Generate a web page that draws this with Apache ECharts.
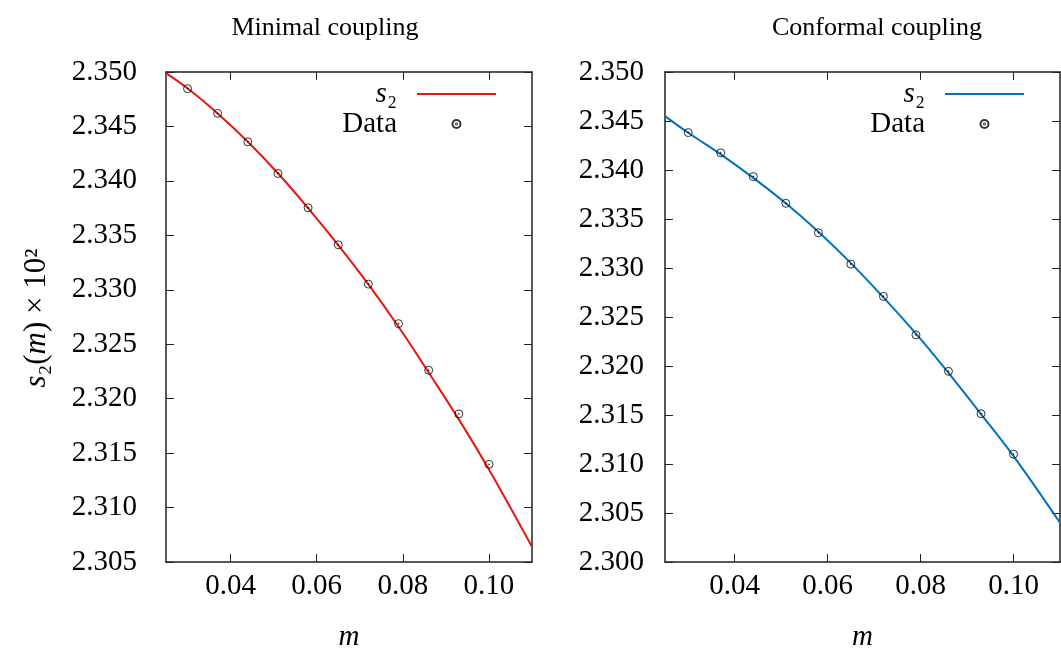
<!DOCTYPE html>
<html>
<head>
<meta charset="utf-8">
<script src="https://cdn.jsdelivr.net/npm/echarts@6/dist/echarts.min.js"></script>
<style>html,body{margin:0;padding:0;background:#fff}#c{width:1061px;height:651px}</style>
</head>
<body>
<div id="c"></div>
<script>
// ---- data ----
const mData = [0.030, 0.037, 0.044, 0.051, 0.058, 0.065, 0.072, 0.079, 0.086, 0.093, 0.100];
const s2MinData = [2.34847, 2.34620, 2.34359, 2.34068, 2.33753, 2.33413, 2.33052, 2.32689, 2.32261, 2.31860, 2.31397];
const s2ConfData = [2.34382, 2.34175, 2.33933, 2.33660, 2.33360, 2.33040, 2.32710, 2.32317, 2.31946, 2.31513, 2.31100];

const mCurve = [0.025, 0.030, 0.037, 0.044, 0.051, 0.058, 0.065, 0.072, 0.079, 0.086, 0.093, 0.100, 0.110];
const s2MinCurve = [2.3499, 2.3485, 2.3462, 2.3436, 2.3407, 2.3375, 2.3341, 2.3305, 2.3266, 2.3224, 2.3181, 2.3135, 2.3064];
const s2ConfCurve = [2.3455, 2.3438, 2.3416, 2.3392, 2.3366, 2.3337, 2.3305, 2.3270, 2.3233, 2.3193, 2.3151, 2.3108, 2.3040];

const xTicks = [0.04, 0.06, 0.08, 0.10];
const yTicksMin = [2.305, 2.310, 2.315, 2.320, 2.325, 2.330, 2.335, 2.340, 2.345, 2.350];
const yTicksConf = [2.300, 2.305, 2.310, 2.315, 2.320, 2.325, 2.330, 2.335, 2.340, 2.345, 2.350];

const titles = ['Minimal coupling', 'Conformal coupling'];

// ---- chart ----
const FONT = 'Liberation Serif';
const AX = '#222';
const zip = (a, b) => a.map((v, i) => [v, b[i]]);
const symPath = 'path://M10,0A10,10,0,1,1,-10,0A10,10,0,1,1,10,0ZM1.2,0A1.2,1.2,0,1,1,-1.2,0A1.2,1.2,0,1,1,1.2,0Z';

function xAxisDef(grid, pos) {
  const bottom = pos === 'bottom';
  return {
    type: 'value', gridIndex: grid, position: pos, min: 0.025, max: 0.11,
    axisLine: { show: true, onZero: false, lineStyle: { color: AX, width: 1.5 } },
    axisTick: { show: true, inside: true, length: 8, customValues: xTicks, lineStyle: { color: AX, width: 1 } },
    axisLabel: { show: bottom, customValues: xTicks, margin: 10, color: '#000', fontFamily: FONT, fontSize: 29,
      formatter: v => v.toFixed(2) },
    splitLine: { show: false },
    name: bottom ? 'm' : '', nameLocation: 'middle', nameGap: 61,
    nameTextStyle: { fontFamily: FONT, fontSize: 29, fontStyle: 'italic', color: '#000' }
  };
}
function yAxisDef(grid, pos, min, ticks, margin) {
  const left = pos === 'left';
  return {
    type: 'value', gridIndex: grid, position: pos, min: min, max: 2.35,
    axisLine: { show: true, onZero: false, lineStyle: { color: AX, width: 1.5 } },
    axisTick: { show: true, inside: true, length: 8, customValues: ticks, lineStyle: { color: AX, width: 1 } },
    axisLabel: { show: left, customValues: ticks, margin: margin, color: '#000', fontFamily: FONT, fontSize: 29,
      formatter: v => v.toFixed(3) },
    splitLine: { show: false }
  };
}
function legendDef(right, names) {
  return {
    orient: 'vertical', align: 'right', right: right, top: 79, padding: 0,
    itemWidth: 79, itemHeight: 8, itemGap: 0,
    data: [{ name: names[0], itemStyle: { opacity: 0 } }, { name: names[1] }],
    textStyle: { fontFamily: FONT, fontSize: 29, color: '#000', lineHeight: 30, padding: [0, 15, 0, 0],
      rich: { i: { fontFamily: FONT, fontSize: 29, fontStyle: 'italic', color: '#000', lineHeight: 30 },
              n: { fontFamily: FONT, fontSize: 29, color: '#000', lineHeight: 30 } } },
    formatter: n => n.trim() === 's₂' ? '{i|s}{n|₂}' : '{n|Data}'
  };
}
function lineSeries(name, xi, yi, ys, color) {
  return { name: name, type: 'line', xAxisIndex: xi, yAxisIndex: yi, data: zip(mCurve, ys),
    smooth: 0.4, showSymbol: false, symbol: 'none', color: color, lineStyle: { color: color, width: 2 }, z: 2, silent: true };
}
function dataSeries(name, xi, yi, ys) {
  return { name: name, type: 'scatter', xAxisIndex: xi, yAxisIndex: yi, data: zip(mData, ys),
    symbol: symPath, symbolSize: 8,
    itemStyle: { color: 'rgba(0,0,0,0)', borderColor: '#000', borderWidth: 1 }, z: 3, silent: true };
}

const chart = echarts.init(document.getElementById('c'), null, { renderer: 'canvas' });
chart.setOption({
  backgroundColor: '#fff',
  animation: false,
  grid: [
    { left: 166, top: 72, width: 366, height: 490, containLabel: false, outerBoundsMode: 'none' },
    { left: 665, top: 72, width: 395, height: 490, containLabel: false, outerBoundsMode: 'none' }
  ],
  xAxis: [xAxisDef(0, 'bottom'), xAxisDef(0, 'top'), xAxisDef(1, 'bottom'), xAxisDef(1, 'top')],
  yAxis: [yAxisDef(0, 'left', 2.305, yTicksMin, 29), yAxisDef(0, 'right', 2.305, yTicksMin, 29),
          yAxisDef(1, 'left', 2.300, yTicksConf, 21), yAxisDef(1, 'right', 2.300, yTicksConf, 21)],
  legend: [legendDef(564, ['s₂', 'Data']), legendDef(36, ['s₂ ', 'Data '])],
  series: [
    lineSeries('s₂', 0, 0, s2MinCurve, '#e8170d'),
    dataSeries('Data', 0, 0, s2MinData),
    lineSeries('s₂ ', 2, 2, s2ConfCurve, '#0072bd'),
    dataSeries('Data ', 2, 2, s2ConfData)
  ],
  graphic: [
    { type: 'text', x: 325, y: 28, style: { text: titles[0], font: '26px "' + FONT + '"', fill: '#000', align: 'center', verticalAlign: 'middle' } },
    { type: 'text', x: 877, y: 28, style: { text: titles[1], font: '26px "' + FONT + '"', fill: '#000', align: 'center', verticalAlign: 'middle' } },
    { type: 'text', x: 37, y: 318, rotation: Math.PI / 2,
      style: { text: '{i|s}{n|₂(}{i|m}{n|) × 10²}', align: 'center', verticalAlign: 'middle',
        rich: { i: { fontFamily: FONT, fontSize: 31, fontStyle: 'italic', fill: '#000' },
                n: { fontFamily: FONT, fontSize: 31, fill: '#000' } } } }
  ]
});
</script>
</body>
</html>
